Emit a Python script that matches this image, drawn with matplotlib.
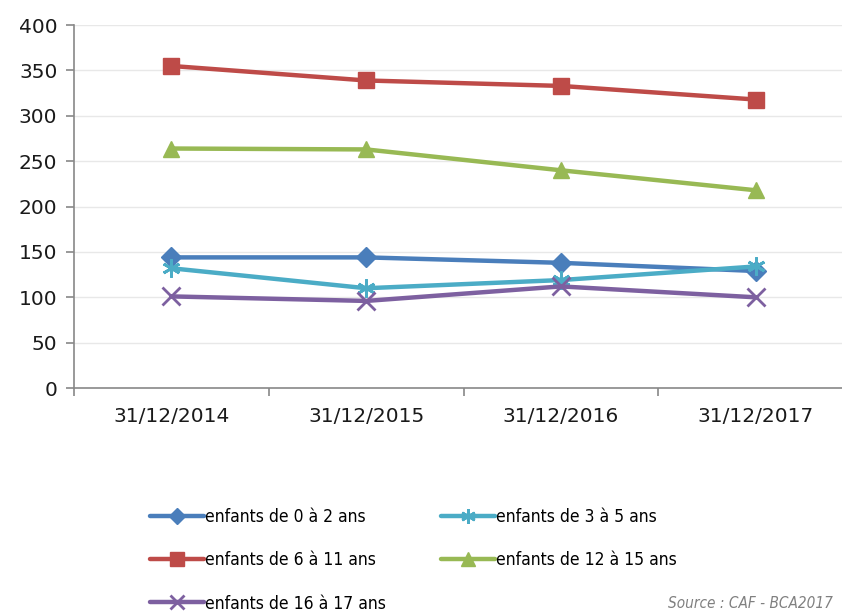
"""line chart: number of children by age group, 2014-2017"""

import matplotlib.pyplot as plt

dates = ["31/12/2014", "31/12/2015", "31/12/2016", "31/12/2017"]
y_ticks = [0, 50, 100, 150, 200, 250, 300, 350, 400]

age_0_2 = [144, 144, 138, 129]
age_3_5 = [132, 110, 119, 134]
age_6_11 = [355, 339, 333, 318]
age_12_15 = [264, 263, 240, 218]
age_16_17 = [101, 96, 112, 100]

labels = [
    "enfants de 0 à 2 ans",
    "enfants de 3 à 5 ans",
    "enfants de 6 à 11 ans",
    "enfants de 12 à 15 ans",
    "enfants de 16 à 17 ans",
]

fig = plt.figure(figsize=(8.42, 6.13), dpi=100)
ax = fig.add_axes([0.088, 0.367, 0.925, 0.592])

x = range(len(dates))
styles = [
    (age_0_2, "#4a7ebb", "D", 10),
    (age_3_5, "#4bacc6", (6, 2, 0), 13),
    (age_6_11, "#be4b48", "s", 12),
    (age_12_15, "#98b954", "^", 12),
    (age_16_17, "#7d60a0", "x", 13),
]
lines = []
for (vals, col, mk, ms), lab in zip(styles, labels):
    (ln,) = ax.plot(x, vals, color=col, lw=3.2, marker=mk, ms=ms,
                    mew=2 if mk in ("x", (6, 2, 0)) else 1, mec=col, mfc=col,
                    label=lab, solid_capstyle="round")
    lines.append(ln)

ax.set_xlim(-0.5, 3.5)
ax.set_ylim(0, 400)
ax.set_yticks(y_ticks)
ax.set_xticks(list(x))
ax.set_xticklabels(dates)
ax.set_xticks([-0.5, 0.5, 1.5, 2.5], minor=True)
ax.tick_params(axis="x", which="major", length=0, pad=14, labelsize=14.5,
               labelcolor="#1a1a1a")
ax.tick_params(axis="x", which="minor", length=6, color="#888888", width=1.2)
ax.tick_params(axis="y", length=6, color="#888888", width=1.2, labelsize=14.5,
               pad=6, labelcolor="#1a1a1a")
ax.grid(axis="y", color="#e8e8e8", lw=1)
ax.set_axisbelow(True)
for side in ("top", "right"):
    ax.spines[side].set_visible(False)
for side in ("left", "bottom"):
    ax.spines[side].set_color("#888888")
    ax.spines[side].set_linewidth(1.2)

order = [0, 2, 4, 1, 3]
fig.legend([lines[i] for i in order], [labels[i] for i in order],
           ncol=2, loc="upper left", bbox_to_anchor=(0.178, 0.171),
           borderaxespad=0, borderpad=0,
           frameon=False, handlelength=3.1, handletextpad=0.05,
           columnspacing=3.2, labelspacing=1.45, markerscale=0.8,
           prop={"family": "DejaVu Sans", "stretch": "condensed", "size": 12.5})

fig.text(0.793, 0.004, "Source : CAF - BCA2017", color="#808080", style="italic",
         fontsize=11, family="DejaVu Sans", stretch="condensed", va="bottom")

fig.savefig("out.png", dpi=100)
